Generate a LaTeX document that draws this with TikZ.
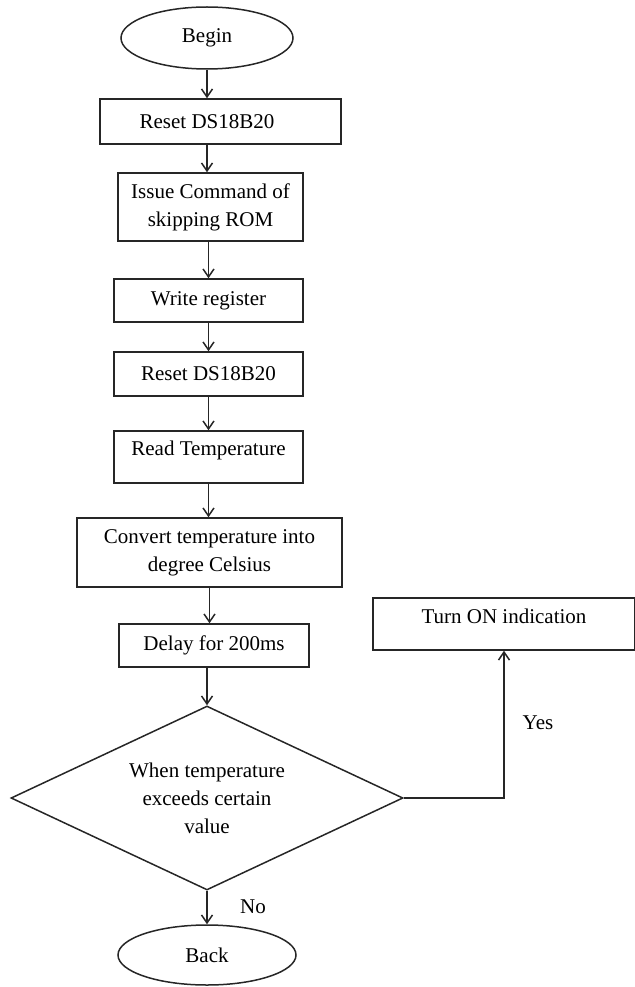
\documentclass[tikz,border=0pt]{standalone}
\usepackage{fontspec}
\setmainfont{Liberation Serif}
\usetikzlibrary{shapes.geometric, arrows.meta}

\begin{document}
\begin{tikzpicture}[x=1pt, y=-1pt, line width=1.5pt,
  every node/.style={anchor=center, align=center, inner sep=0pt, font=\fontsize{21}{28}\selectfont},
  box/.style={draw=black!85, rectangle},
  oval/.style={draw=black!85, ellipse},
  decision/.style={draw=black!85, diamond, aspect=2.13},
  arrow/.style={draw=black!85, -{Straight Barb[length=8pt, width=11pt]}}]
  \useasboundingbox (0,0) rectangle (634,987);

  \node[oval, minimum width=172pt, minimum height=62pt] (begin) at (207,38) {Begin};
  \node[box, minimum width=241pt, minimum height=45pt] (reset1) at (220.5,121.5) {Reset DS18B20\rule{27pt}{0pt}};
  \node[box, minimum width=185pt, minimum height=68pt] (issue) at (210.5,207) {Issue Command of\\skipping ROM};
  \node[box, minimum width=189pt, minimum height=43pt] (write) at (208.5,300.5) {Write register};
  \node[box, minimum width=189pt, minimum height=44pt] (reset2) at (208.5,374) {Reset DS18B20};
  \node[box, minimum width=189pt, minimum height=52pt, text depth=18pt] (read) at (208.5,457) {Read Temperature};
  \node[box, minimum width=265pt, minimum height=69pt] (convert) at (209.5,552.5) {Convert temperature into\\degree Celsius};
  \node[box, minimum width=190pt, minimum height=43pt] (delay) at (214,645.5) {Delay for 200ms};
  \node[decision, minimum width=392pt, minimum height=184pt] (check) at (207,798) {When temperature\\exceeds certain\\value};
  \node[box, minimum width=262pt, minimum height=52pt, text depth=16.5pt] (turnon) at (504,624) {Turn ON indication};
  \node[oval, minimum width=178pt, minimum height=60pt] (back) at (207,955) {Back};
  \node (yes) at (538,723) {Yes};
  \node (no) at (253,907) {No};

  \path[arrow] (begin) -- (begin |- reset1.north);
  \path[arrow] (reset1.south -| begin) -- (issue.north -| begin);
  \path[arrow] (issue.south -| write) -- (write);
  \path[arrow] (write) -- (reset2);
  \path[arrow] (reset2) -- (read);
  \path[arrow] (read) -- (read |- convert.north);
  \path[arrow] (convert) -- (convert |- delay.north);
  \path[arrow] (delay.south -| check) -- (check);
  \path[arrow] (check) -- (back);
  \path[arrow] (check.east) -| (turnon);
\end{tikzpicture}
\end{document}
